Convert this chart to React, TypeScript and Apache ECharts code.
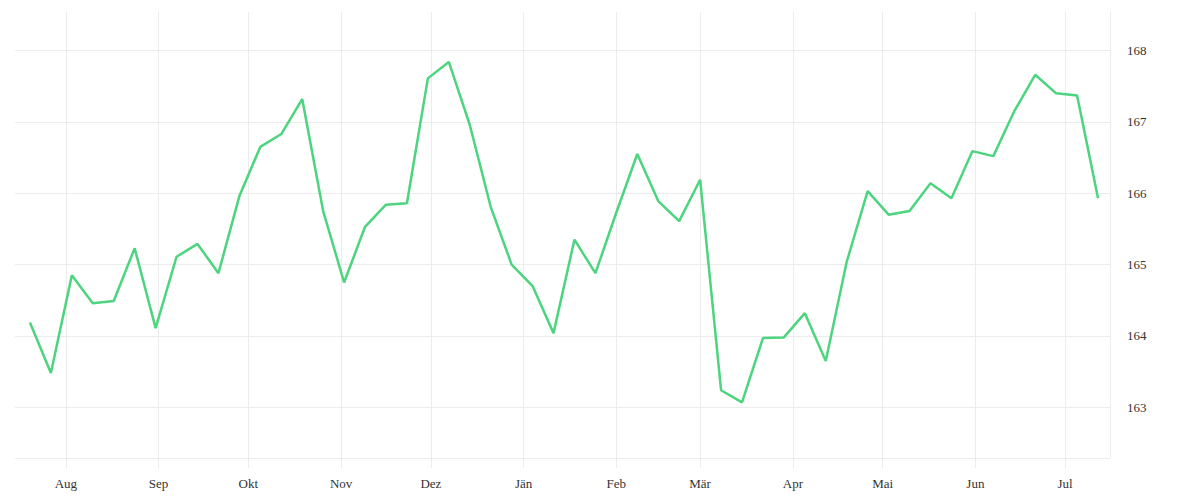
import React, { useEffect, useRef } from 'react';
import * as echarts from 'echarts';

// 每周数据点（日期）
const dates: string[] = [
  '2022-07-20', '2022-07-27', '2022-08-03', '2022-08-10', '2022-08-17', '2022-08-24', '2022-08-31',
  '2022-09-07', '2022-09-14', '2022-09-21', '2022-09-28', '2022-10-05', '2022-10-12', '2022-10-19',
  '2022-10-26', '2022-11-02', '2022-11-09', '2022-11-16', '2022-11-23', '2022-11-30', '2022-12-07',
  '2022-12-14', '2022-12-21', '2022-12-28', '2023-01-04', '2023-01-11', '2023-01-18', '2023-01-25',
  '2023-02-01', '2023-02-08', '2023-02-15', '2023-02-22', '2023-03-01', '2023-03-08', '2023-03-15',
  '2023-03-22', '2023-03-29', '2023-04-05', '2023-04-12', '2023-04-19', '2023-04-26', '2023-05-03',
  '2023-05-10', '2023-05-17', '2023-05-24', '2023-05-31', '2023-06-07', '2023-06-14', '2023-06-21',
  '2023-06-28', '2023-07-05', '2023-07-12'
];

const values: number[] = [
  164.19, 163.48, 164.85, 164.46, 164.49, 165.23, 164.11,
  165.11, 165.29, 164.88, 165.96, 166.65, 166.83, 167.32,
  165.75, 164.75, 165.53, 165.84, 165.86, 167.61, 167.84,
  166.96, 165.81, 165.0, 164.7, 164.04, 165.35, 164.88,
  165.73, 166.55, 165.89, 165.61, 166.19, 163.24, 163.07,
  163.97, 163.98, 164.32, 163.65, 165.04, 166.03, 165.7,
  165.75, 166.14, 165.93, 166.59, 166.52, 167.15, 167.66,
  167.4, 167.37, 165.93
];

const monthNames: string[] = ['Jän', 'Feb', 'Mär', 'Apr', 'Mai', 'Jun', 'Jul', 'Aug', 'Sep', 'Okt', 'Nov', 'Dez'];

const xMin = '2022-07-15';
const xMax = '2023-07-16';
const yMin = 162.29;
const yMax = 168.54;

const FONT = '"Liberation Serif", serif';
const GRID_COLOR = '#ececec';

const App: React.FC = () => {
  const chartRef = useRef<HTMLDivElement>(null);

  useEffect(() => {
    if (!chartRef.current) return;
    const chart = echarts.init(chartRef.current, undefined, { renderer: 'svg' });

    const option = {
      animation: false,
      grid: { left: 15, right: 90, top: 12, bottom: 42 },
      xAxis: {
        type: 'time',
        min: xMin,
        max: xMax,
        minInterval: 28 * 86400000,
        maxInterval: 31 * 86400000,
        axisLine: { show: false },
        axisTick: { show: true, length: 10, lineStyle: { color: GRID_COLOR } },
        splitLine: { show: true, showMinLine: false, lineStyle: { color: GRID_COLOR } },
        axisLabel: {
          showMinLabel: false,
          showMaxLabel: false,
          margin: 19,
          color: '#333',
          fontSize: 13,
          fontFamily: FONT,
          formatter: (v: number) => monthNames[new Date(v).getMonth()]
        }
      },
      yAxis: {
        type: 'value',
        position: 'right',
        min: yMin,
        max: yMax,
        splitNumber: 6,
        axisLine: { show: false },
        axisTick: { show: false },
        splitLine: { show: true, showMaxLine: false, lineStyle: { color: GRID_COLOR } },
        axisLabel: {
          showMinLabel: false,
          showMaxLabel: false,
          margin: 17,
          color: '#333',
          fontSize: 13,
          fontFamily: FONT,
          formatter: (v: number) => String(Math.round(v))
        }
      },
      series: [
        {
          type: 'line',
          data: dates.map((d, i) => [d, values[i]]),
          showSymbol: false,
          lineStyle: { color: '#4cd47e', width: 2.5 },
          itemStyle: { color: '#4cd47e' }
        }
      ]
    };

    chart.setOption(option);
    return () => chart.dispose();
  }, []);

  return (
    <div
      ref={chartRef}
      style={{ position: 'fixed', left: 0, top: 0, width: '1200px', height: '500px', background: '#fff' }}
    />
  );
};

export default App;
